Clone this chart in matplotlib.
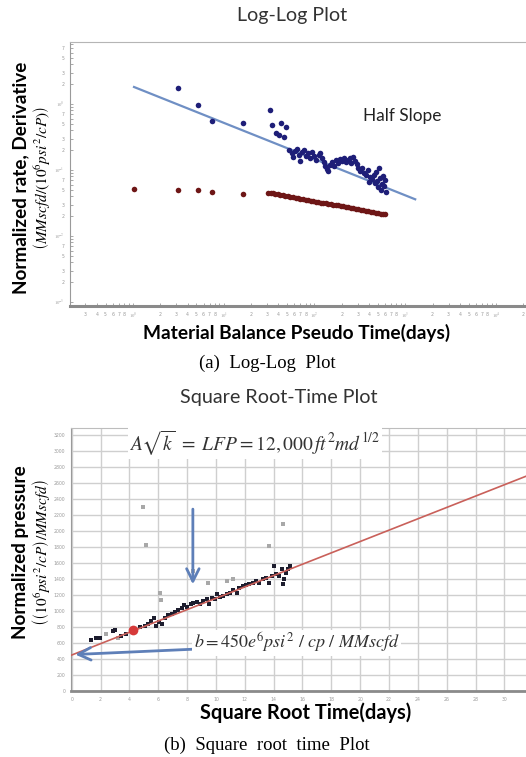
import numpy as np
import matplotlib.pyplot as plt
from matplotlib.ticker import LogLocator, FuncFormatter, MultipleLocator

plt.rcParams['mathtext.fontset'] = 'stix'

# ---- (a) log-log plot data ----
rate_x = [3.12, 5.18, 7.38, 16.2, 32.0, 34.5, 42.3, 49.2, 38.2, 41.2, 46.8,
          53.1, 55.9, 58.8, 61.8, 65.0, 68.4, 70.2, 73.8, 77.6, 81.7, 85.9,
          90.4, 95.1, 100, 105, 111, 116, 122, 129, 132, 139, 142, 150, 158,
          166, 175, 184, 193, 203, 214, 225, 237, 249, 255, 268, 282, 297,
          305, 320, 337, 354, 372, 392, 412, 434, 456, 468, 492, 505, 518,
          531, 545, 558, 587, 603, 618, 573, 480, 402]
rate_y = [1.75, 0.966, 0.553, 0.515, 0.811, 0.481, 0.515, 0.449, 0.364, 0.339, 0.316,
          0.201, 0.181, 0.157, 0.194, 0.208, 0.169, 0.137, 0.187, 0.201, 0.163, 0.181,
          0.152, 0.187, 0.163, 0.142, 0.169, 0.181, 0.152, 0.132, 0.115, 0.104, 0.0966,
          0.119, 0.132, 0.115, 0.142, 0.128, 0.147, 0.137, 0.152, 0.132, 0.142, 0.152,
          0.128, 0.157, 0.137, 0.123, 0.107, 0.0966, 0.107, 0.0901, 0.0840, 0.100,
          0.0783, 0.0731, 0.0840, 0.0635, 0.0681, 0.0553, 0.107, 0.0756, 0.0498,
          0.0614, 0.0572, 0.0705, 0.0464, 0.0811, 0.0933, 0.0658]

deriv_x = [1.03, 3.12, 5.18, 7.38, 16.2,
           31, 33, 35, 37, 40, 42, 45, 48, 51, 54, 58, 62, 66, 70, 75, 80, 85,
           91, 97, 103, 110, 117, 125, 133, 142, 151, 161, 172, 183, 195, 208,
           222, 236, 252, 268, 286, 305, 325, 346, 369, 393, 419, 446, 476,
           507, 540, 575, 605]
deriv_y = [0.0515, 0.0498, 0.0498, 0.0464, 0.0433,
           0.0450, 0.0444, 0.0443, 0.0435, 0.0428, 0.0417, 0.0413, 0.0404, 0.0398,
           0.0390, 0.0386, 0.0377, 0.0374, 0.0366, 0.0362, 0.0354, 0.0351, 0.0343,
           0.0340, 0.0331, 0.0330, 0.0321, 0.0319, 0.0312, 0.0309, 0.0301, 0.0300,
           0.0292, 0.0291, 0.0284, 0.0282, 0.0274, 0.0273, 0.0266, 0.0264, 0.0257,
           0.0257, 0.0249, 0.0248, 0.0241, 0.0240, 0.0234, 0.0233, 0.0226, 0.0226,
           0.0219, 0.0219, 0.0213]

half_slope_x = [1.03, 1288]
half_slope_y = [1.81, 0.036]

# ---- (b) square root time plot data ----
sqrt_t = [1.37, 1.71, 1.94, 2.85, 2.99, 3.45, 3.75, 4.72, 5.07, 5.30, 5.53,
          5.69, 5.83, 6.06, 6.27, 6.46, 6.69, 6.92, 7.15, 7.38, 7.62, 7.78,
          7.96, 8.24, 8.43, 8.70, 8.89, 9.12, 9.35, 9.54, 9.72, 9.93, 10.1,
          10.28, 10.5, 10.74, 10.97, 11.2, 11.44, 11.62, 11.85, 12.08, 12.31,
          12.55, 12.78, 13.0, 13.24, 13.47, 13.7, 13.87, 14.03, 14.17, 14.4,
          14.56, 14.63, 14.72, 14.86, 15.02, 15.14]
norm_p = [633, 658, 666, 750, 762, 688, 716, 800, 812, 841, 875,
          916, 812, 866, 841, 916, 946, 966, 991, 1008, 1033, 1075,
          1050, 1091, 1104, 1116, 1083, 1125, 1146, 1083, 1166, 1146, 1216,
          1175, 1187, 1208, 1229, 1258, 1229, 1291, 1312, 1325, 1333,
          1354, 1375, 1354, 1396, 1416, 1354, 1437, 1562, 1458, 1437,
          1521, 1341, 1396, 1479, 1521, 1562]
outlier_t = [4.95, 5.12, 14.63, 13.7, 9.45, 10.8, 11.2, 6.1, 6.2, 2.4, 3.2, 8.4]
outlier_p = [2304, 1821, 2083, 1812, 1350, 1375, 1400, 1225, 1140, 710, 660, 1500]
marked_t = [4.26]
marked_p = [762]
intercept = 450
slope = 71

W, H = 526, 757
fig = plt.figure(figsize=(W / 100, H / 100), dpi=100)


def fx(px):
    return px / W


def fy(py):
    return 1 - py / H


sans = ['Lato', 'DejaVu Sans']
serif = ['Liberation Serif', 'DejaVu Serif']
tick_col = '#9a9a9a'

# ---------------- (a) ----------------
ax1 = fig.add_axes([fx(70), fy(306), 1 - fx(70), fy(42) - fy(306)])
ax1.set_xscale('log')
ax1.set_yscale('log')
ax1.set_xlim(0.203, 21400)
ax1.set_ylim(0.00087, 8.7)

ax1.plot(half_slope_x, half_slope_y, color='#6f8fc4', lw=1.6, zorder=2)
ax1.plot(rate_x, rate_y, 'o', color='#1e1e78', ms=4, mew=0, zorder=3)
ax1.plot(deriv_x, deriv_y, 'o', color='#6e1616', ms=4, mew=0, zorder=3)


def digit(v):
    return int(round(v / 10 ** np.floor(np.log10(v) + 1e-9)))


def x_minor_fmt(v, pos):
    return str(digit(v)) if 2 <= digit(v) <= 8 else ''


def y_minor_fmt(v, pos):
    return str(digit(v)) if digit(v) in (2, 3, 5, 7) else ''


def major_fmt(v, pos):
    return '$10^{%d}$' % int(round(np.log10(v)))


for axis, mfmt in ((ax1.xaxis, x_minor_fmt), (ax1.yaxis, y_minor_fmt)):
    axis.set_major_locator(LogLocator(base=10, numticks=20))
    axis.set_minor_locator(LogLocator(base=10, subs=range(2, 10), numticks=20))
    axis.set_major_formatter(FuncFormatter(major_fmt))
    axis.set_minor_formatter(FuncFormatter(mfmt))
ax1.tick_params(which='both', direction='in', length=2.5, width=0.6, colors=tick_col,
                labelsize=3.3, pad=4)
ax1.spines['right'].set_visible(False)
ax1.spines['top'].set_color('#b5b5b5')
ax1.spines['left'].set_color('#9a9a9a')
ax1.spines['bottom'].set_color('#8a8a8a')
ax1.spines['bottom'].set_linewidth(2.2)

fig.text(fx(402), fy(116), 'Half Slope', family=sans, fontsize=12.4, color='#222222',
         ha='center', va='center')
fig.text(fx(292), fy(15), 'Log-Log Plot', family=sans, fontsize=14.2, color='#333333',
         ha='center', va='center')
fig.text(fx(297), fy(333), 'Material Balance Pseudo Time(days)', family=sans,
         fontsize=13.8, fontweight='bold', ha='center', va='center')
fig.text(fx(21), fy(178), 'Normalized rate, Derivative', family=sans, fontsize=13.6,
         fontweight='bold', rotation=90, ha='center', va='center')
fig.text(fx(41), fy(178), r'$\left(MMscfd/(10^6psi^2/cP)\right)$', fontsize=11,
         rotation=90, ha='center', va='center')
fig.text(fx(267), fy(363), '(a)  Log-Log  Plot', family=serif, fontsize=13.5,
         ha='center', va='center')

# ---------------- (b) ----------------
ax2 = fig.add_axes([fx(71), fy(691), 1 - fx(71), fy(428) - fy(691)])
ax2.set_xlim(-0.05, 31.5)
ax2.set_ylim(0, 3290)
ax2.xaxis.set_major_locator(MultipleLocator(2))
ax2.yaxis.set_major_locator(MultipleLocator(200))
ax2.grid(True, color='#cfcfcf', lw=1)
ax2.set_axisbelow(True)
ax2.tick_params(length=0, colors=tick_col, labelsize=3.3, pad=4)
ax2.spines['right'].set_visible(False)
ax2.spines['top'].set_color('#bdbdbd')
ax2.spines['left'].set_color('#9a9a9a')
ax2.spines['bottom'].set_color('#8a8a8a')
ax2.spines['bottom'].set_linewidth(2)

t_line = np.array(ax2.get_xlim())
ax2.plot(t_line, intercept + slope * t_line, color='#c9605a', lw=1.2, zorder=3)
ax2.plot(outlier_t, outlier_p, 's', color='#a8a8a8', ms=2.6, mew=0, zorder=2)
ax2.plot(sqrt_t, norm_p, 's', color='#1d1d2e', ms=3, mew=0, zorder=2)
ax2.plot(marked_t, marked_p, 'o', color='#d63a3a', ms=7, mew=0, zorder=4)

arrow_col = '#5e7fb8'
ax2.annotate('', xy=(8.4, 1300), xytext=(8.4, 2310),
             arrowprops=dict(arrowstyle='->,head_length=0.9,head_width=0.45',
                             color=arrow_col, lw=2))
ax2.annotate('', xy=(0.05, 455), xytext=(8.7, 525),
             arrowprops=dict(arrowstyle='->,head_length=0.9,head_width=0.45',
                             color=arrow_col, lw=2))

ax2.text(12.7, 3100, r'$A\sqrt{k}\ =\ LFP = 12,000\,ft^2md^{1/2}$', fontsize=14,
         color='#333333', ha='center', va='center', zorder=5,
         bbox=dict(facecolor='white', edgecolor='none', pad=1))
ax2.text(15.6, 600, r'$b = 450e^6psi^2\ /\ cp\ /\ MMscfd$', fontsize=13,
         color='#333333', ha='center', va='center', zorder=5,
         bbox=dict(facecolor='white', edgecolor='none', pad=1))

fig.text(fx(279), fy(397), 'Square Root-Time Plot', family=sans, fontsize=14.2,
         color='#333333', ha='center', va='center')
fig.text(fx(306), fy(713), 'Square Root Time(days)', family=sans, fontsize=14.4,
         fontweight='bold', ha='center', va='center')
fig.text(fx(21), fy(552), 'Normalized pressure', family=sans, fontsize=13.6,
         fontweight='bold', rotation=90, ha='center', va='center')
fig.text(fx(41), fy(553), r'$\left(\left(10^6psi^2/cP\right)/MMscfd\right)$',
         fontsize=11, rotation=90, ha='center', va='center')
fig.text(fx(267), fy(745), '(b)  Square  root  time  Plot', family=serif, fontsize=13.5,
         ha='center', va='center')

fig.savefig('out.png', dpi=100)
